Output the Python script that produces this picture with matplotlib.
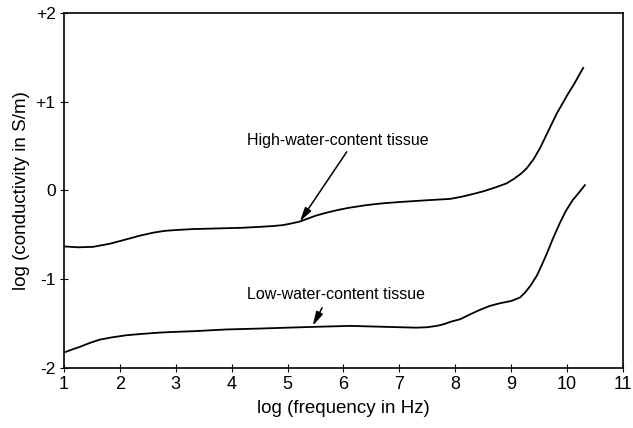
import matplotlib
matplotlib.use('Agg')
import matplotlib.pyplot as plt

plt.rcParams['font.family'] = ['Liberation Sans', 'DejaVu Sans']

# log(frequency in Hz) vs log(conductivity in S/m)
high_x = [1.0, 1.25, 1.52, 1.82, 2.12, 2.35, 2.6, 2.8, 3.02, 3.3, 3.61, 3.9,
          4.2, 4.5, 4.75, 4.92, 5.08, 5.22, 5.35, 5.5, 5.7, 5.9, 6.1, 6.41,
          6.7, 7.01, 7.5, 7.91, 8.12, 8.32, 8.5, 8.7, 8.92, 9.05, 9.18, 9.28,
          9.4, 9.52, 9.62, 9.72, 9.82, 9.93, 10.02, 10.12, 10.2, 10.29]
high_y = [-0.63, -0.64, -0.635, -0.60, -0.55, -0.51, -0.475, -0.455, -0.445,
          -0.435, -0.43, -0.425, -0.42, -0.41, -0.40, -0.39, -0.37, -0.35,
          -0.32, -0.285, -0.25, -0.22, -0.195, -0.165, -0.145, -0.13, -0.11,
          -0.095, -0.07, -0.04, -0.01, 0.03, 0.08, 0.13, 0.19, 0.25, 0.35,
          0.48, 0.61, 0.74, 0.87, 0.99, 1.09, 1.19, 1.28, 1.38]

low_x = [1.0, 1.15, 1.29, 1.45, 1.64, 1.85, 2.12, 2.4, 2.72, 3.0, 3.31, 3.91,
         4.5, 5.0, 5.52, 6.12, 6.71, 7.31, 7.5, 7.67, 7.8, 7.91, 8.09, 8.25,
         8.44, 8.62, 8.8, 9.0, 9.16, 9.25, 9.35, 9.46, 9.55, 9.64, 9.75, 9.87,
         9.98, 10.1, 10.22, 10.32]
low_y = [-1.825, -1.79, -1.76, -1.72, -1.68, -1.655, -1.63, -1.615, -1.60,
         -1.592, -1.585, -1.565, -1.555, -1.545, -1.535, -1.525, -1.535,
         -1.545, -1.54, -1.525, -1.505, -1.48, -1.45, -1.40, -1.345, -1.30,
         -1.27, -1.245, -1.205, -1.15, -1.07, -0.96, -0.84, -0.71, -0.54,
         -0.37, -0.23, -0.11, -0.02, 0.06]

x_ticks = list(range(1, 12))
y_ticks = [-2, -1, 0, 1, 2]
y_labels = ['-2', '-1', '0', '+1', '+2']

# label text, text position, arrow start, arrow tip
labels = ['High-water-content tissue', 'Low-water-content tissue']
label_pos = [(5.9, 0.56), (5.86, -1.17)]
arrow_from = [(6.06, 0.435), (5.62, -1.32)]
arrow_to = [(5.22, -0.35), (5.45, -1.525)]

fig = plt.figure(figsize=(6.33, 4.28), dpi=100)
ax = fig.add_axes([0.101, 0.140, 0.883, 0.830])

ax.plot(high_x, high_y, color='black', lw=1.3)
ax.plot(low_x, low_y, color='black', lw=1.3)

for txt, pos, a0, a1 in zip(labels, label_pos, arrow_from, arrow_to):
    ax.text(pos[0], pos[1], txt, ha='center', va='center', fontsize=11.5)
    ax.annotate('', xy=a1, xytext=a0,
                arrowprops=dict(arrowstyle='-|>,head_length=0.7,head_width=0.18',
                                color='black', lw=1.1, mutation_scale=12,
                                shrinkA=0, shrinkB=0))

ax.set_xlim(1, 11)
ax.set_ylim(-2, 2)
ax.set_xticks(x_ticks)
ax.set_yticks(y_ticks)
ax.set_yticklabels(y_labels)
ax.tick_params(axis='x', direction='inout', length=6, labelsize=13, pad=3)
ax.tick_params(axis='y', direction='inout', length=6, labelsize=12.5, pad=3)
for s in ax.spines.values():
    s.set_linewidth(1.2)

ax.set_xlabel('log (frequency in Hz)', fontsize=13.5, labelpad=5)
ax.set_ylabel('log (conductivity in S/m)', fontsize=13.5, labelpad=4)

fig.savefig('out.png', dpi=100)
